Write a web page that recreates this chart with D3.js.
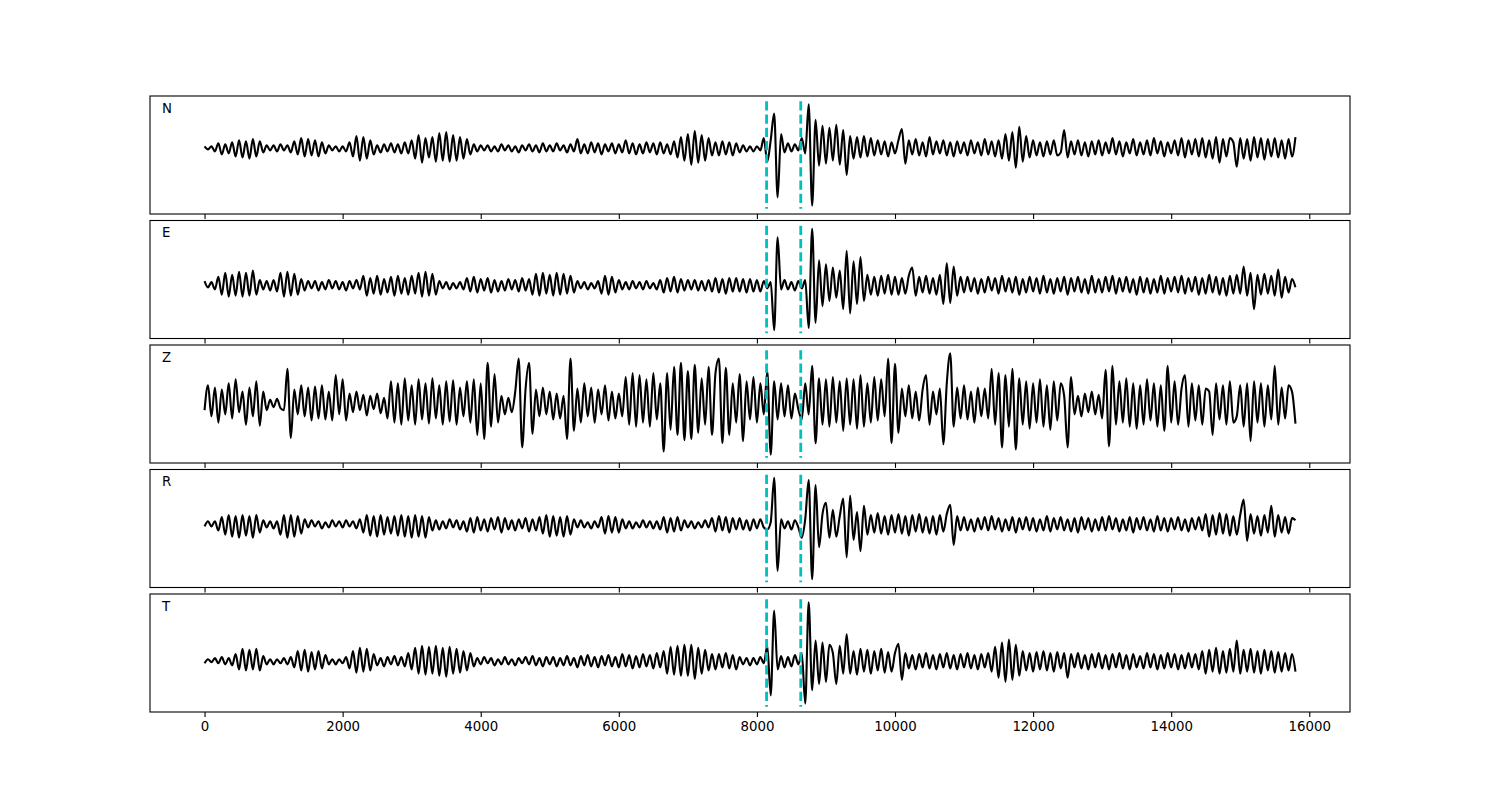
<!DOCTYPE html>
<html>
<head>
<meta charset="utf-8">
<script src="https://cdn.jsdelivr.net/npm/d3@7"></script>
<style>
  html, body { margin: 0; padding: 0; background: #ffffff; }
  svg { display: block; }
  text { font-family: "DejaVu Sans", sans-serif; }
</style>
</head>
<body>
<div id="chart"></div>
<script>
// ---------------- data ----------------
const channels = ["N", "E", "Z", "R", "T"];
const sampleStep = 50;          // time units between samples (starting at 0)
const pickTimes = [8140, 8635]; // dashed phase picks
const xTicks = [0, 2000, 4000, 6000, 8000, 10000, 12000, 14000, 16000];

const nValues = [
  2,-1,2,-3,5,-6,4,-5,6,-8,8,-9,7,-10,9,-8,7,-4,3,-2,
  3,-3,4,-2,3,-4,7,-6,10,-8,9,-7,8,-8,6,-5,3,-2,2,-3,
  2,-3,6,-8,12,-12,11,-10,8,-6,3,-4,4,-3,5,-4,4,-5,6,-5,
  8,-10,13,-14,10,-9,11,-13,15,-12,16,-13,13,-12,11,-10,9,-6,4,-3,
  3,-2,3,-3,2,-3,4,-2,3,-3,2,-4,3,-2,4,-3,3,-4,5,-3,
  3,-3,5,-2,3,-4,4,-3,9,-5,4,-5,6,-4,5,-6,4,-3,5,-5,
  4,-4,8,-5,5,-6,4,-5,6,-4,5,-6,6,-5,4,-6,7,-9,11,-12,
  14,-16,17,-14,13,-12,10,-7,6,-7,7,-6,6,-7,5,-4,3,-3,2,-3,
  2,-2,10,-13,8,34,-48,14,-4,5,-3,4,-2,10,-5,43,-56,28,-17,22,
  -15,20,-12,23,-16,18,-26,12,-10,11,-9,12,-8,10,-7,8,-6,7,-8,6,
  -5,8,19,-15,8,-6,9,-7,6,-8,11,-6,7,-5,8,-7,6,-8,7,-5,
  6,-7,8,-5,6,-7,9,-6,7,-8,8,-10,14,-12,16,-19,21,-13,12,-9,
  8,-7,6,-8,7,-6,8,-7,-4,18,-9,7,-6,8,-7,6,-8,7,-6,8,
  -7,6,-5,10,-6,7,-8,6,-5,9,-7,6,-6,8,-7,10,-5,7,-8,6,
  -5,8,-7,10,-9,8,-6,9,-8,10,-9,8,-10,11,-14,9,-8,10,6,-18,
  10,-10,9,-12,11,-9,10,-11,9,-8,10,-9,8,-10,9,-8,11
];

const eValues = [
  4,-2,3,-4,8,-9,12,-11,10,-10,13,-11,12,-10,14,-9,5,-4,4,-5,
  5,-6,12,-11,13,-10,11,-9,6,-5,4,-3,4,-5,3,-4,5,-3,4,-4,
  3,-5,4,-3,5,-4,9,-10,7,-8,9,-9,6,-7,8,-10,9,-8,7,-9,
  9,-8,12,-11,13,-10,11,-9,4,-3,3,-4,2,-3,3,-4,7,-6,8,-7,
  6,-5,7,-7,5,-6,4,-5,6,-4,5,-6,7,-5,6,-9,11,-10,12,-8,
  10,-10,12,-9,11,-8,9,-7,4,-3,3,-4,2,-3,4,-8,9,-9,8,-7,
  5,-4,3,-4,4,-3,3,-4,4,-3,2,-4,5,-7,7,-6,8,-7,6,-5,
  5,-4,5,-5,4,-5,5,-6,7,-7,6,-8,7,-6,7,-6,6,-7,6,-6,
  5,-6,4,-3,3,-43,46,-4,5,-4,3,-5,4,-3,5,-41,54,-36,24,-20,
  20,-15,17,-12,14,-23,33,-27,23,-18,27,-15,10,-9,8,-10,9,-8,10,-9,
  8,-9,7,-8,9,17,-10,8,-7,9,-8,7,-9,10,-18,21,-17,18,-10,8,
  -7,8,-6,7,-8,6,-7,8,-5,7,-8,9,-6,7,-7,8,-9,6,-7,8,
  -6,7,-8,9,-7,6,-8,7,-6,8,-9,7,-6,8,-7,6,-8,9,-7,6,
  -7,8,-6,9,-8,7,-6,8,-7,6,-9,8,-7,7,-8,6,-7,9,-8,7,
  -6,8,-7,9,-8,7,-6,8,-9,7,-8,10,-7,8,-9,7,-10,9,-8,10,
  -8,18,-10,12,-23,10,-9,11,-8,9,-10,15,-12,8,-7,6,-2
];

const zValues = [
  -6,18,-12,16,-18,14,-10,20,-14,24,-8,12,-20,16,-12,22,-21,12,-6,4,
  -3,5,-4,-6,34,-33,14,-10,18,-12,16,-16,17,-14,18,-15,12,-16,28,-10,
  24,-16,10,-8,12,-6,9,-11,8,-5,10,-9,6,-14,22,-18,20,-20,25,-16,
  18,-20,24,-15,20,-19,25,-14,18,-20,22,-17,23,-20,16,-12,22,-18,24,-30,
  20,-34,40,-22,29,-18,8,-10,6,-8,12,44,-42,15,40,-29,14,-12,16,-10,
  12,-15,10,-14,8,-34,44,-26,15,-18,20,-12,16,-18,14,-10,18,-16,12,-14,
  10,-12,26,-20,30,-22,28,-18,24,-22,30,-15,20,-46,30,-25,36,-30,40,-35,
  32,-34,38,-28,25,-20,36,-30,30,44,-38,35,-30,20,-18,29,-36,22,-15,26,
  -18,20,-10,32,-49,22,-15,20,-12,18,-14,10,-5,-15,20,-10,37,-38,25,-20,
  24,-22,26,-18,22,-26,25,-20,24,-24,28,-22,20,-18,26,-16,24,-12,44,-38,
  39,-28,15,-12,18,-14,12,-16,14,28,-20,12,-10,15,-39,20,49,-22,16,-14,
  18,-15,12,-18,16,-12,15,-14,34,-20,30,-42,28,-22,34,-44,25,-20,22,-24,
  20,-18,24,-22,18,-25,22,-16,20,8,-42,26,-10,8,-12,10,-8,12,-10,9,
  -14,33,-41,37,-20,22,-18,25,-22,20,-24,18,-20,24,-16,20,-22,18,-26,37,
  -18,22,-20,15,28,-22,20,-16,18,-20,15,12,-30,20,-15,18,-20,22,-18,-12,
  18,-22,20,-36,22,-18,20,-22,18,-15,37,-20,16,-14,18,12,-19
];

const rValues = [
  -2,3,-2,3,-6,7,-10,9,-12,8,-13,9,-11,8,-13,9,-8,4,-3,3,
  -4,3,-10,9,-13,9,-12,8,-9,5,-3,4,-2,3,-4,2,-3,4,-2,3,
  -3,4,-2,3,-4,5,-8,9,-11,8,-12,9,-10,7,-9,8,-11,9,-12,8,
  -13,9,-12,8,-13,7,-6,4,-5,3,-4,5,-3,4,-5,3,-7,6,-8,7,
  -6,5,-7,6,-5,7,-8,6,-5,4,-6,5,-4,6,-7,5,-6,7,-9,9,
  -12,8,-11,7,-12,8,-10,5,-3,4,-3,2,-4,3,-3,7,-9,8,-8,7,
  -8,5,-4,3,-4,2,-3,4,-3,3,-4,3,-5,7,-8,6,-7,7,-6,4,
  -3,3,-4,2,-3,4,-3,6,-7,8,-6,7,-8,6,-5,6,-5,4,-6,5,
  -4,5,-3,-5,2,45,-45,5,-4,3,-5,4,-3,-13,5,43,-53,38,-22,10,
  21,-13,14,-12,8,25,-32,28,-15,12,-26,18,-10,9,-8,11,-9,8,-10,9,
  -8,10,-9,8,-11,9,-7,10,-8,7,-9,8,-10,9,-7,10,19,-20,8,-6,
  7,-6,5,-7,6,-5,7,-6,8,-5,6,-7,5,-6,7,-8,6,-5,7,-6,
  6,-7,5,-6,8,-7,6,-5,7,-6,5,-7,6,-8,7,-5,6,-7,5,-6,
  7,-6,8,-5,6,-7,5,-6,7,-8,6,-5,7,-6,5,-7,8,-6,6,-7,
  6,-5,7,-6,5,-7,6,-5,7,-6,10,-12,9,-10,11,-9,10,-11,8,-10,
  9,24,-16,10,-9,8,-11,9,-8,18,-12,9,-8,7,-9,6,4
];

const tValues = [
  -2,2,-1,3,-2,4,-3,3,-4,7,-8,12,-9,11,-8,12,-9,5,-3,2,
  -3,2,-2,3,-3,4,-6,10,-9,11,-10,9,-8,10,-7,6,-3,2,-3,2,
  -2,4,-7,10,-11,13,-10,12,-9,7,-4,3,-5,4,-3,5,-4,4,-5,8,
  -8,13,-12,15,-13,14,-12,15,-14,13,-15,14,-12,12,-11,10,-9,8,-5,3,
  -3,4,-2,3,-4,2,-3,4,-3,2,-4,3,-2,4,-3,5,-4,3,-5,4,
  -3,4,-5,3,-4,5,-4,3,-6,5,-4,6,-5,4,-6,5,-4,6,-5,4,
  -6,7,-5,6,-7,5,-6,7,-5,6,-7,8,-6,10,-12,14,-13,15,-14,16,
  -14,16,-17,13,-12,11,-9,7,-8,7,-6,8,-7,6,-8,4,-3,3,-4,3,
  -3,4,-2,15,-33,49,-8,5,-6,4,-5,6,-3,8,-41,57,-28,20,-22,18,
  -20,16,8,-22,15,-12,26,-12,10,-13,12,-10,11,-12,10,-9,12,-11,9,-10,
  8,17,-18,8,-7,6,-8,7,-6,8,-7,6,-8,7,-6,8,-7,6,-8,7,
  -6,8,-7,6,-8,7,-6,8,-10,14,-16,18,-20,21,-18,16,-14,10,-9,8,
  -10,9,-8,10,-9,8,-10,9,-7,8,-16,7,-6,8,-7,6,-8,7,-6,8,
  -7,6,-8,7,-6,8,-7,6,-8,7,-6,5,-7,8,-6,7,-8,6,-7,8,
  -6,7,-8,6,-7,8,-6,7,-8,10,-12,11,-10,13,-12,10,-11,12,-10,20,
  -12,11,-10,12,-11,10,-12,11,-9,10,-11,9,-10,8,-9,7,-10
];

const traces = [nValues, eValues, zValues, rValues, tValues];

// ---------------- layout ----------------
(function draw() {
  const W = 1500, H = 800;
  const plotLeft = 150, plotRight = 1350, plotTop = 96, plotBottom = 712;
  const nRows = channels.length;
  const hspace = 0.055;
  const panelH = (plotBottom - plotTop) / (nRows + (nRows - 1) * hspace);
  const gap = panelH * hspace;

  const svg = d3.select("#chart").append("svg")
    .attr("width", W).attr("height", H)
    .attr("viewBox", `0 0 ${W} ${H}`);

  const tMax = d3.max(traces, v => (v.length - 1) * sampleStep);
  const xPad = 0.05 * tMax;
  const x = d3.scaleLinear().domain([0 - xPad, tMax + xPad]).range([plotLeft, plotRight]);

  traces.forEach((vals, i) => {
    const y0 = plotTop + i * (panelH + gap);
    const y1 = y0 + panelH;
    const pts = vals.map((v, k) => [k * sampleStep, v]);
    const ext = d3.extent(vals);
    const span = ext[1] - ext[0];
    const lineLo = ext[0] - 0.03 * span, lineHi = ext[1] + 0.03 * span;
    const lspan = lineHi - lineLo;
    const y = d3.scaleLinear()
      .domain([lineLo - 0.05 * lspan, lineHi + 0.05 * lspan])
      .range([y1, y0]);

    const g = svg.append("g");
    const clipId = "clip" + i;
    g.append("clipPath").attr("id", clipId)
      .append("rect").attr("x", plotLeft).attr("y", y0)
      .attr("width", plotRight - plotLeft).attr("height", panelH);

    const plot = g.append("g").attr("clip-path", `url(#${clipId})`);

    const line = d3.line()
      .x(d => x(d[0])).y(d => y(d[1]))
      .curve(d3.curveMonotoneX);

    plot.append("path").datum(pts)
      .attr("d", line)
      .attr("fill", "none")
      .attr("stroke", "#000000")
      .attr("stroke-width", 2.1)
      .attr("stroke-linejoin", "round");

    plot.selectAll("line.pick").data(pickTimes).enter().append("line")
      .attr("class", "pick")
      .attr("x1", d => x(d)).attr("x2", d => x(d))
      .attr("y1", y(lineHi)).attr("y2", y(lineLo))
      .attr("stroke", "#00bfbf")
      .attr("stroke-width", 2.8)
      .attr("stroke-dasharray", "9.2,4");

    const axis = d3.axisBottom(x)
      .tickValues(xTicks)
      .tickSize(4.9)
      .tickPadding(4.2)
      .tickFormat(i === nRows - 1 ? d3.format("d") : () => "");
    const ag = g.append("g")
      .attr("transform", `translate(0,${y1})`)
      .call(axis);
    ag.select(".domain").remove();
    ag.selectAll(".tick line").attr("stroke", "#000").attr("stroke-width", 1.1);
    ag.selectAll(".tick text")
      .attr("fill", "#000")
      .style("font-family", '"DejaVu Sans", sans-serif')
      .style("font-size", "13.33px");

    g.append("rect")
      .attr("x", plotLeft).attr("y", y0)
      .attr("width", plotRight - plotLeft).attr("height", panelH)
      .attr("fill", "none").attr("stroke", "#000").attr("stroke-width", 1.1);

    g.append("text")
      .attr("x", plotLeft + 12).attr("y", y0 + 17)
      .attr("fill", "#000")
      .style("font-size", "13.33px")
      .text(channels[i]);
  });
})();
</script>
</body>
</html>
